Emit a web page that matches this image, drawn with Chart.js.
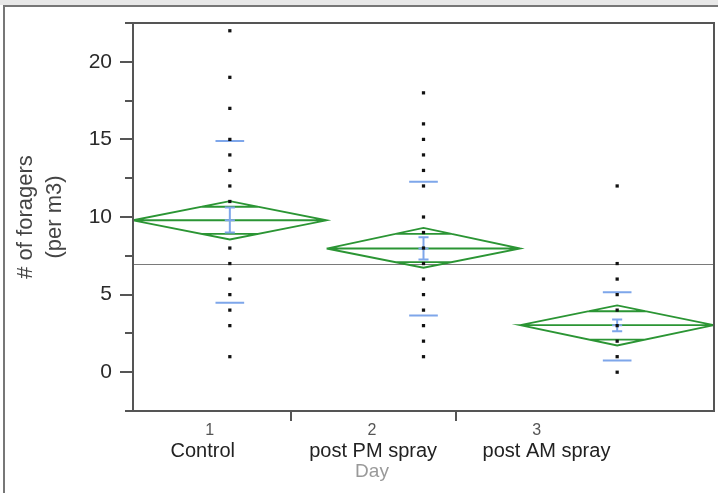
<!DOCTYPE html>
<html lang="en">
<head>
<meta charset="utf-8">
<title>Foragers by day</title>
<script src="https://cdn.jsdelivr.net/npm/chart.js@4.4.1/dist/chart.umd.min.js"></script>
<style>
  html, body { margin: 0; padding: 0; overflow: hidden; background: #fff; }
  #bande { position: absolute; left: 0; top: 0; width: 718px; height: 5px; background: #e8e8e8; }
  #cadre { position: absolute; left: 3px; top: 5px; width: 740px; height: 520px;
           border-left: 2px solid #777; border-top: 2px solid #777; }
  #zone { position: absolute; left: 0; top: 0; width: 718px; height: 493px; }
</style>
</head>
<body>
<div id="bande"></div>
<div id="cadre"></div>
<div id="zone"><canvas id="graphe" width="718" height="493"></canvas></div>

<script>
// categories
const days = ['1', '2', '3'];
const dayNames = ['Control', 'post PM spray', 'post AM spray'];

// raw counts per day (as plotted)
const control = [22, 19, 17, 15, 14, 13, 12, 11, 8, 7, 6, 5, 4, 3, 1];
const postPM = [18, 16, 15, 14, 13, 12, 10, 9, 8, 7, 6, 5, 4, 3, 2, 1];
const postAM = [12, 7, 6, 5, 4, 3, 2, 1, 0];

// means diamonds, std dev lines, std error bars
const means = [9.79, 7.97, 3.03];
const ciUpper = [11.02, 9.30, 4.30];
const ciLower = [8.55, 6.73, 1.72];
const sdUpper = [14.90, 12.27, 5.15];
const sdLower = [4.47, 3.65, 0.75];
const seUpper = [10.61, 8.70, 3.40];
const seLower = [9.00, 7.26, 2.64];
const grandMean = 6.94;

// axis ticks
const yTicks = [0, 5, 10, 15, 20];
const yMinorTicks = [-2.5, 0, 2.5, 5, 7.5, 10, 12.5, 15, 17.5, 20, 22.5];

const groups = [control, postPM, postAM];
const VERT = '#2b9534';
const BLEU = '#7ea6ea';
const FONTE = '"Liberation Sans", Arial, Helvetica, sans-serif';
Chart.defaults.font.family = FONTE;

// where the labels and dividers sit along the x axis (0..3, one unit per day)
const dayTickAt = [0.396, 1.234, 2.084];
const dividerAt = [0.818, 1.667];
const nameAt = [0.36, 1.24, 2.135];

function ligne(data, color, width, order) {
  return {
    type: 'line', data: data, borderColor: color, borderWidth: width,
    pointRadius: 0, fill: false, tension: 0, spanGaps: false,
    xAxisID: 'x', yAxisID: 'y', order: order
  };
}

let datasets = [];

// points
datasets.push({
  type: 'scatter',
  data: groups.flatMap((vals, i) => vals.map(v => ({x: i + 0.5, y: v}))),
  pointStyle: 'rect', pointRadius: 2.3, backgroundColor: '#111', borderColor: '#111', borderWidth: 0,
  xAxisID: 'x', yAxisID: 'y', order: 0
});

const k = Math.SQRT1_2;
for (let i = 0; i < days.length; i++) {
  const c = i + 0.5;
  // std error bar
  datasets.push(ligne([
    {x: c, y: seLower[i]}, {x: c, y: seUpper[i]}, {x: c, y: null},
    {x: c - 0.026, y: seUpper[i]}, {x: c + 0.026, y: seUpper[i]}, {x: c, y: null},
    {x: c - 0.026, y: seLower[i]}, {x: c + 0.026, y: seLower[i]}, {x: c, y: null},
    {x: c - 0.026, y: means[i]}, {x: c + 0.026, y: means[i]}
  ], BLEU, 2, 1));
  // std dev lines
  datasets.push(ligne([
    {x: c - 0.074, y: sdUpper[i]}, {x: c + 0.074, y: sdUpper[i]}, {x: c, y: null},
    {x: c - 0.074, y: sdLower[i]}, {x: c + 0.074, y: sdLower[i]}
  ], BLEU, 2, 2));
  // diamond + mean line + overlap marks
  const hU = (ciUpper[i] - means[i]) * k;
  const hL = (means[i] - ciLower[i]) * k;
  const w = 0.5 * (1 - k);
  datasets.push(ligne([
    {x: i, y: means[i]}, {x: c, y: ciUpper[i]}, {x: i + 1, y: means[i]},
    {x: c, y: ciLower[i]}, {x: i, y: means[i]}, {x: i + 1, y: means[i]}, {x: c, y: null},
    {x: c - w, y: means[i] + hU}, {x: c + w, y: means[i] + hU}, {x: c, y: null},
    {x: c - w, y: means[i] - hL}, {x: c + w, y: means[i] - hL}
  ], VERT, 1.8, 3));
}

// grand mean
datasets.push(ligne([{x: 0, y: grandMean}, {x: 3, y: grandMean}], '#7a7a7a', 1.2, 4));

const cadrePlot = {
  id: 'cadrePlot',
  afterDatasetsDraw(chart) {
    const {ctx, chartArea: a} = chart;
    ctx.save();
    ctx.strokeStyle = '#555';
    ctx.lineWidth = 2;
    ctx.strokeRect(a.left, a.top, a.right - a.left, a.bottom - a.top);
    ctx.restore();
  }
};

new Chart(document.getElementById('graphe'), {
  data: { datasets: datasets },
  plugins: [cadrePlot],
  options: {
    responsive: false,
    animation: false,
    events: [],
    devicePixelRatio: 1,
    layout: { padding: { top: 23, right: 3, left: 29, bottom: 0 } },
    plugins: { legend: { display: false }, tooltip: { enabled: false } },
    scales: {
      x: {
        type: 'linear', position: 'bottom', weight: 0, min: 0, max: 3,
        afterBuildTicks: s => {
          const t = dayTickAt.map((p, i) => ({value: p, lbl: days[i]}))
            .concat(dividerAt.map(p => ({value: p, lbl: ''})));
          s.ticks = t.sort((a, b) => a.value - b.value);
        },
        afterFit: s => { s.height = 28; },
        ticks: {
          callback: (v, i, t) => t[i].lbl,
          color: '#555', font: { size: 16 }, padding: 0,
          autoSkip: false, maxRotation: 0
        },
        grid: {
          drawOnChartArea: false, tickLength: 10, lineWidth: 2,
          tickColor: c => (c.tick && c.tick.lbl) ? 'rgba(0,0,0,0)' : '#555'
        },
        border: { color: '#555', width: 2 }
      },
      x2: {
        type: 'linear', position: 'bottom', weight: 1, min: 0, max: 3,
        afterBuildTicks: s => { s.ticks = nameAt.map((p, i) => ({value: p, lbl: dayNames[i]})); },
        afterFit: s => { s.height = 54; },
        ticks: {
          callback: (v, i, t) => t[i].lbl,
          color: '#222', font: { size: 20 }, padding: 0,
          autoSkip: false, maxRotation: 0
        },
        grid: { display: false, drawTicks: false },
        border: { display: false }
      },
      xDay: {
        type: 'linear', position: 'bottom', weight: 2, min: 0, max: 3, fullSize: true,
        afterFit: s => { s.height = 0; },
        ticks: { display: false },
        grid: { display: false, drawTicks: false },
        border: { display: false },
        title: { display: true, text: 'Day', color: '#999', font: { size: 19 }, padding: { top: 0, bottom: 10 } }
      },
      y: {
        type: 'linear', position: 'left', weight: 1, min: -2.5, max: 22.5,
        afterBuildTicks: s => { s.ticks = yTicks.map(v => ({value: v})); },
        afterFit: s => { s.width = 104; },
        ticks: { padding: 8, color: '#2a2a2a', font: { size: 21 } },
        grid: { drawOnChartArea: false, tickLength: 13, color: '#555', lineWidth: 2 },
        border: { color: '#555', width: 2 },
        title: {
          display: true, text: ['# of foragers', '(per m3)'], color: '#444',
          font: { size: 22, lineHeight: 1.32 }, padding: { top: -18, bottom: 0 }
        }
      },
      yMinor: {
        type: 'linear', position: 'left', weight: 0, min: -2.5, max: 22.5,
        afterBuildTicks: s => { s.ticks = yMinorTicks.map(v => ({value: v})); },
        afterFit: s => { s.width = 0; },
        ticks: { display: false },
        grid: { drawOnChartArea: false, tickLength: 8, color: '#555', lineWidth: 2 },
        border: { display: false }
      }
    }
  }
});
</script>
</body>
</html>
